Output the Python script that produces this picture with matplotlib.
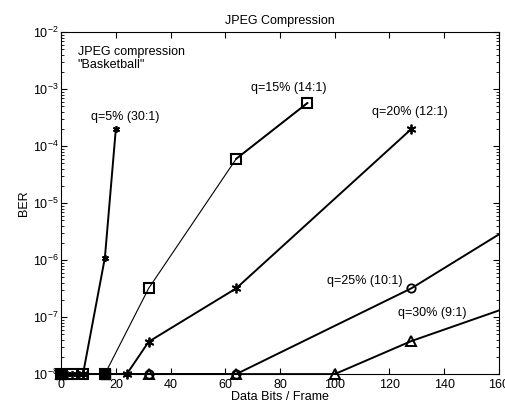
import numpy as np
import matplotlib
matplotlib.use('Agg')
import matplotlib.pyplot as plt
from matplotlib.ticker import LogLocator, NullFormatter

plt.rcParams['font.family'] = ['Liberation Sans', 'DejaVu Sans']
plt.rcParams['mathtext.default'] = 'regular'

# BER vs data bits per frame for each JPEG quality setting
bits_q5 = [0, 2, 4, 6, 8, 16, 20]
ber_q5 = [1e-8, 1e-8, 1e-8, 1e-8, 1e-8, 1.1e-6, 2.0e-4]

bits_q15 = [0, 4, 8, 16, 32, 64, 90]
ber_q15 = [1e-8, 1e-8, 1e-8, 1e-8, 3.2e-7, 6.0e-5, 5.7e-4]

bits_q20 = [0, 8, 16, 24, 32, 64, 128]
ber_q20 = [1e-8, 1e-8, 1e-8, 1e-8, 3.7e-8, 3.2e-7, 2.0e-4]

bits_q25 = [0, 32, 64, 128, 192]
ber_q25 = [1e-8, 1e-8, 1e-8, 3.2e-7, 2.5e-5]

bits_q30 = [0, 32, 64, 100, 128, 192]
ber_q30 = [1e-8, 1e-8, 1e-8, 1e-8, 3.8e-8, 4.5e-7]

labels = ['q=5% (30:1)', 'q=15% (14:1)', 'q=20% (12:1)', 'q=25% (10:1)', 'q=30% (9:1)']

asterisk = (6, 2, 0)
XMAX = 160


def curve(ax, x, y, lw, marker, ms, mew, filled=False, z=3):
    x = np.asarray(x, float)
    y = np.asarray(y, float)
    ax.plot(x, y, '-', color='k', lw=lw)
    # markers are not clipped at the frame, only those inside the x range
    keep = x <= XMAX
    ax.plot(x[keep], y[keep], ls='none', color='k', marker=marker, ms=ms,
            mew=mew, mfc='k' if filled else 'none', clip_on=False, zorder=z)


fig = plt.figure(figsize=(5.05, 4.12), dpi=100)
ax = fig.add_axes([0.121, 0.092, 0.867, 0.830])

curve(ax, bits_q25, ber_q25, 1.4, 'o', 6, 1.3, z=3)
curve(ax, bits_q30, ber_q30, 1.4, '^', 7.5, 1.4, z=4)
curve(ax, bits_q20, ber_q20, 1.4, asterisk, 7, 1.3, filled=True)
curve(ax, bits_q15, ber_q15, 0.8, 's', 7, 1.5)
# last segment of the 15% curve is drawn heavier
ax.plot(bits_q15[-2:], ber_q15[-2:], '-', color='k', lw=1.4)
curve(ax, bits_q5, ber_q5, 1.4, asterisk, 5, 1.2, filled=True)
# filled markers at the zero-bits end
ax.plot(bits_q5[:1], ber_q5[:1], 's', color='k', ms=7, clip_on=False, zorder=5)
ax.plot(bits_q15[3:4], ber_q15[3:4], 's', color='k', ms=7, clip_on=False, zorder=5)

ax.set_yscale('log')
ax.set_xlim(0, XMAX)
ax.set_ylim(1e-8, 1e-2)
ax.set_xticks(np.arange(0, 161, 20))
ax.yaxis.set_major_locator(LogLocator(base=10, numticks=10))
ax.yaxis.set_minor_locator(LogLocator(base=10, subs=np.arange(2, 10), numticks=20))
ax.yaxis.set_minor_formatter(NullFormatter())
ax.tick_params(which='both', direction='in', top=True, right=True,
               labelsize=9, pad=2)
ax.tick_params(axis='x', pad=3.5)
ax.tick_params(which='major', length=4)
ax.tick_params(which='minor', length=2)
for s in ax.spines.values():
    s.set_linewidth(0.8)

ax.set_title('JPEG Compression', fontsize=9, pad=6)
ax.set_xlabel('Data Bits / Frame', fontsize=9, labelpad=0)
ax.set_ylabel('BER', fontsize=9, labelpad=2)

ax.text(6, 3.5e-3, 'JPEG compression\n"Basketball"', fontsize=9,
        va='center', ha='left', linespacing=1.1)

# curve labels
ax.text(11, 3.2e-4, labels[0], fontsize=9, ha='left', va='center')
ax.text(69.5, 1.05e-3, labels[1], fontsize=9, ha='left', va='center')
ax.text(113.5, 3.9e-4, labels[2], fontsize=9, ha='left', va='center')
ax.text(97, 4.3e-7, labels[3], fontsize=9, ha='left', va='center')
ax.text(123, 1.2e-7, labels[4], fontsize=9, ha='left', va='center')

fig.savefig('out.png', dpi=100)
